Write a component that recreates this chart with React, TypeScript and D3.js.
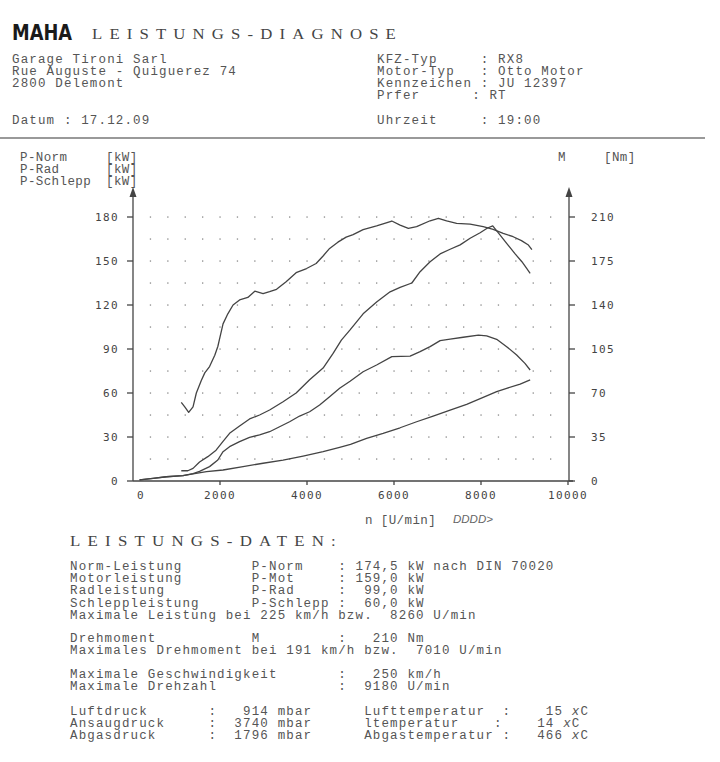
import React from "react";
import * as d3 from "d3";

// axis ticks
const rpmTicks = [0, 2000, 4000, 6000, 8000, 10000];
const kwTicks = [0, 30, 60, 90, 120, 150, 180];
const nmTicks = [0, 35, 70, 105, 140, 175, 210];
// dotted background grid
const gridRpm = [400, 800, 1200, 1600, 2000, 2400, 2800, 3200, 3600, 4000, 4400, 4800, 5200, 5600, 6000, 6400, 6800, 7200, 7600, 8000, 8400, 8800, 9200, 9600];
const gridKw = [15, 30, 45, 60, 75, 90, 105, 120, 135, 150, 165, 180];

type Pt = [number, number]; // [rpm, value]

// M [Nm] (right axis)
const torqueNm: Pt[] = [
  [1110, 62.6], [1190, 59], [1280, 54.6], [1380, 59], [1456, 70], [1570, 80], [1650, 86],
  [1760, 91], [1880, 100], [1950, 107], [2010, 116], [2070, 125], [2180, 133], [2300, 140],
  [2450, 144], [2640, 146], [2800, 151], [2990, 149], [3140, 150.6], [3300, 152.5],
  [3520, 158.5], [3750, 165.7], [3990, 169], [4210, 173], [4370, 179], [4520, 185],
  [4710, 190], [4900, 194], [5060, 196], [5290, 200], [5600, 203], [5950, 206.8],
  [6140, 203.6], [6330, 201], [6520, 202.3], [6830, 207], [7020, 209], [7210, 207],
  [7440, 205], [7750, 204.4], [8050, 202.3], [8280, 200.2], [8510, 197], [8740, 194.3],
  [8930, 191.2], [9090, 187.7], [9170, 184],
];

// P-Norm [kW]
const pNorm: Pt[] = [
  [1110, 7], [1260, 7], [1380, 8.6], [1530, 13], [1720, 16.6], [1910, 21], [2070, 27],
  [2220, 32.5], [2450, 37.5], [2680, 42.3], [2910, 45], [3140, 48.4], [3450, 54], [3750, 60],
  [4060, 69], [4370, 77], [4600, 87], [4790, 96], [4990, 103], [5290, 114], [5600, 122],
  [5910, 129], [6140, 132], [6410, 135], [6600, 142.7], [6830, 149.5], [7060, 154.8],
  [7290, 158], [7520, 161], [7750, 165.5], [7980, 169.3], [8150, 172.5], [8270, 174],
  [8440, 167.7], [8590, 162], [8780, 155], [8940, 149.5], [9050, 145], [9130, 141.6],
];

// P-Rad [kW]
const pRad: Pt[] = [
  [150, 0.7], [460, 1.8], [770, 2.9], [1150, 3.6], [1380, 5], [1530, 6.6], [1760, 9.8],
  [1950, 14.3], [2070, 20], [2220, 23.4], [2450, 26.8], [2680, 29.8], [2910, 31.4],
  [3140, 33.6], [3370, 37], [3600, 40.4], [3830, 44.3], [4060, 47.2], [4290, 51.8],
  [4520, 57.5], [4750, 63.2], [4990, 68], [5290, 74.5], [5600, 79.1], [5950, 84.8],
  [6370, 85.2], [6600, 88.2], [6830, 91.6], [7060, 95.7], [7290, 96.8], [7590, 98],
  [7940, 99.5], [8130, 98.9], [8360, 96.6], [8590, 91.6], [8820, 85.9], [9010, 80.2],
  [9130, 75.7],
];

// P-Schlepp [kW]
const pSchlepp: Pt[] = [
  [150, 0.7], [460, 1.8], [770, 2.9], [1150, 3.6], [1380, 4.8], [1690, 6.4], [2070, 7.5],
  [2530, 9.8], [2990, 12.1], [3450, 14.3], [3910, 17], [4370, 20], [4750, 23], [5000, 25],
  [5370, 29.1], [5750, 32.5], [6140, 36.3], [6520, 40.4], [6900, 44.3], [7290, 48.4],
  [7670, 52.3], [8050, 57], [8360, 60.9], [8590, 63.2], [8900, 66.1], [9130, 68.9],
];

// printed text rows, [text, column]
type Cell = [string, number];
const headLeft = ["Garage Tironi Sarl", "Rue Auguste - Quiguerez 74", "2800 Delemont"];
const headRight: Cell[][] = [
  [["KFZ-Typ", 0], [": RX8", 12]],
  [["Motor-Typ", 0], [": Otto Motor", 12]],
  [["Kennzeichen", 0], [": JU 12397", 12]],
  [["Prfer", 0], [": RT", 11]],
];
const dataBlock1: Cell[][] = [
  [["Norm-Leistung", 0], ["P-Norm", 21], [": 174,5 kW nach DIN 70020", 31]],
  [["Motorleistung", 0], ["P-Mot", 21], [": 159,0 kW", 31]],
  [["Radleistung", 0], ["P-Rad", 21], [":  99,0 kW", 31]],
  [["Schleppleistung", 0], ["P-Schlepp", 21], [":  60,0 kW", 31]],
  [["Maximale Leistung bei 225 km/h bzw.  8260 U/min", 0]],
];
const dataBlock2: Cell[][] = [
  [["Drehmoment", 0], ["M", 21], [":   210 Nm", 31]],
  [["Maximales Drehmoment bei 191 km/h bzw.  7010 U/min", 0]],
];
const dataBlock3: Cell[][] = [
  [["Maximale Geschwindigkeit", 0], [":   250 km/h", 31]],
  [["Maximale Drehzahl", 0], [":  9180 U/min", 31]],
];
const dataBlock4: Cell[][] = [
  [["Luftdruck", 0], [":   914 mbar", 16], ["Lufttemperatur", 34], [":", 50], ["15 ", 55]],
  [["Ansaugdruck", 0], [":  3740 mbar", 16], ["ltemperatur", 34], [":", 49], ["14 ", 54]],
  [["Abgasdruck", 0], [":  1796 mbar", 16], ["Abgastemperatur", 34], [":", 50], ["466 ", 54]],
];

function row(cells: Cell[]) {
  let s = "";
  cells.forEach(([t, c]) => {
    s = s.padEnd(c, " ") + t;
  });
  return s;
}

const MONO = "'Liberation Mono', 'DejaVu Sans Mono', monospace";
const TICK = "'DejaVu Sans Mono', monospace";
const INK = "#555";

export default function App() {
  const x = d3.scaleLinear().domain([0, 10000]).range([133, 568]);
  const yKw = d3.scaleLinear().domain([0, 180]).range([481, 217]);
  const yNm = d3.scaleLinear().domain([0, 210]).range([481, 217]);
  const lineKw = d3.line<Pt>().x((d) => x(d[0])).y((d) => yKw(d[1]));
  const lineNm = d3.line<Pt>().x((d) => x(d[0])).y((d) => yNm(d[1]));

  const x0 = x(0);
  const xR = 569;
  const yB = yKw(0);
  const arrowTop = 187;

  // 12.5px glyphs on an 8.65px pitch, like the printer font
  const txt = { fontFamily: MONO, fontSize: 12.5, letterSpacing: 1.15, fill: INK, whiteSpace: "pre" as const };
  const small = { fontFamily: MONO, fontSize: 12.5, letterSpacing: 0.4, fill: INK, whiteSpace: "pre" as const };
  const wide = { fontFamily: "'Liberation Serif', serif", fontSize: 14, letterSpacing: 6, fill: "#444" };

  const block = (rows: Cell[][], y0: number, italicX = false) =>
    rows.map((r, i) => (
      <text key={i} x={70} y={y0 + i * 12.2} style={txt}>
        {row(r)}
        {italicX && <tspan fontStyle="italic">x</tspan>}
        {italicX && <tspan>C</tspan>}
      </text>
    ));

  return (
    <div style={{ position: "absolute", left: 0, top: 0 }}>
      <svg width={720} height={762} viewBox="0 0 720 762" style={{ display: "block", background: "#fff" }}>
        {/* header */}
        <text x={12} y={40} textLength={60} lengthAdjust="spacingAndGlyphs"
          style={{ fontFamily: "'DejaVu Sans', sans-serif", fontWeight: 900, fontSize: 21, fill: "#1a1a1a" }}>
          MAHA
        </text>
        <text x={92} y={39} textLength={311} lengthAdjust="spacingAndGlyphs" style={wide}>
          LEISTUNGS-DIAGNOSE
        </text>
        {headLeft.map((t, i) => (
          <text key={t} x={12} y={63 + i * 12} style={txt}>{t}</text>
        ))}
        {headRight.map((r, i) => (
          <text key={i} x={377} y={63 + i * 12} style={txt}>{row(r)}</text>
        ))}
        <text x={12} y={124} style={txt}>Datum : 17.12.09</text>
        <text x={377} y={124} style={txt}>{row([["Uhrzeit", 0], [": 19:00", 12]])}</text>
        <line x1={0} x2={705} y1={138} y2={138} stroke="#999" strokeWidth={2} />

        {/* axis titles */}
        {["P-Norm", "P-Rad", "P-Schlepp"].map((t, i) => (
          <g key={t} style={small}>
            <text x={20} y={161 + i * 12}>{t}</text>
            <text x={106} y={161 + i * 12}>[kW]</text>
          </g>
        ))}
        <text x={558} y={161} style={small}>M</text>
        <text x={604} y={161} style={small}>[Nm]</text>

        {/* grid dots */}
        {gridKw.map((k) =>
          gridRpm.map((r) => (
            <rect key={`${k}-${r}`} x={x(r) - 0.6} y={yKw(k) - 0.6} width={1.3} height={1.3} fill="#888" />
          ))
        )}

        {/* axes */}
        <g stroke="#444" strokeWidth={1.3}>
          <line x1={x0} x2={x0} y1={yB} y2={arrowTop + 8} />
          <line x1={xR} x2={xR} y1={yB} y2={arrowTop + 8} />
          <line x1={x0} x2={x(10000) + 5} y1={yB} y2={yB} />
          {kwTicks.map((k) => (
            <line key={k} x1={x0 - 6} x2={x0} y1={yKw(k)} y2={yKw(k)} />
          ))}
          {nmTicks.map((n) => (
            <line key={n} x1={xR} x2={xR + 6} y1={yNm(n)} y2={yNm(n)} />
          ))}
          {rpmTicks.slice(1).map((r) => (
            <line key={r} x1={x(r)} x2={x(r)} y1={yB} y2={yB + 4} />
          ))}
        </g>
        <path d={`M${x0},${arrowTop} L${x0 - 3.5},${arrowTop + 10} L${x0 + 3.5},${arrowTop + 10} Z`} fill="#444" />
        <path d={`M${xR},${arrowTop} L${xR - 3.5},${arrowTop + 10} L${xR + 3.5},${arrowTop + 10} Z`} fill="#444" />

        {/* tick labels */}
        <g style={{ fontFamily: TICK, fontSize: 11, fill: "#444", letterSpacing: 1.4 }}>
          {kwTicks.map((k) => (
            <text key={k} x={119} y={yKw(k) + 4} textAnchor="end">{k}</text>
          ))}
          {nmTicks.map((n) => (
            <text key={n} x={591} y={yNm(n) + 4}>{n}</text>
          ))}
          {rpmTicks.map((r) => (
            <text key={r} x={x(r) + (r === 0 ? 8 : 0)} y={499} textAnchor="middle">{r}</text>
          ))}
        </g>
        <text x={365} y={524} style={small}>n [U/min]</text>
        <text x={453} y={523} style={{ fontFamily: "'Liberation Sans', sans-serif", fontStyle: "italic", fontSize: 11.5, fill: "#666" }}>
          DDDD&gt;
        </text>

        {/* curves */}
        <g fill="none" stroke="#444" strokeWidth={1.3} strokeLinejoin="round">
          <path d={lineNm(torqueNm) ?? ""} />
          <path d={lineKw(pNorm) ?? ""} />
          <path d={lineKw(pRad) ?? ""} />
          <path d={lineKw(pSchlepp) ?? ""} />
        </g>

        {/* data section */}
        <text x={70} y={546} textLength={273} lengthAdjust="spacingAndGlyphs" style={wide}>
          LEISTUNGS-DATEN:
        </text>
        {block(dataBlock1, 570)}
        {block(dataBlock2, 642)}
        {block(dataBlock3, 678)}
        {block(dataBlock4, 715, true)}
      </svg>
    </div>
  );
}
